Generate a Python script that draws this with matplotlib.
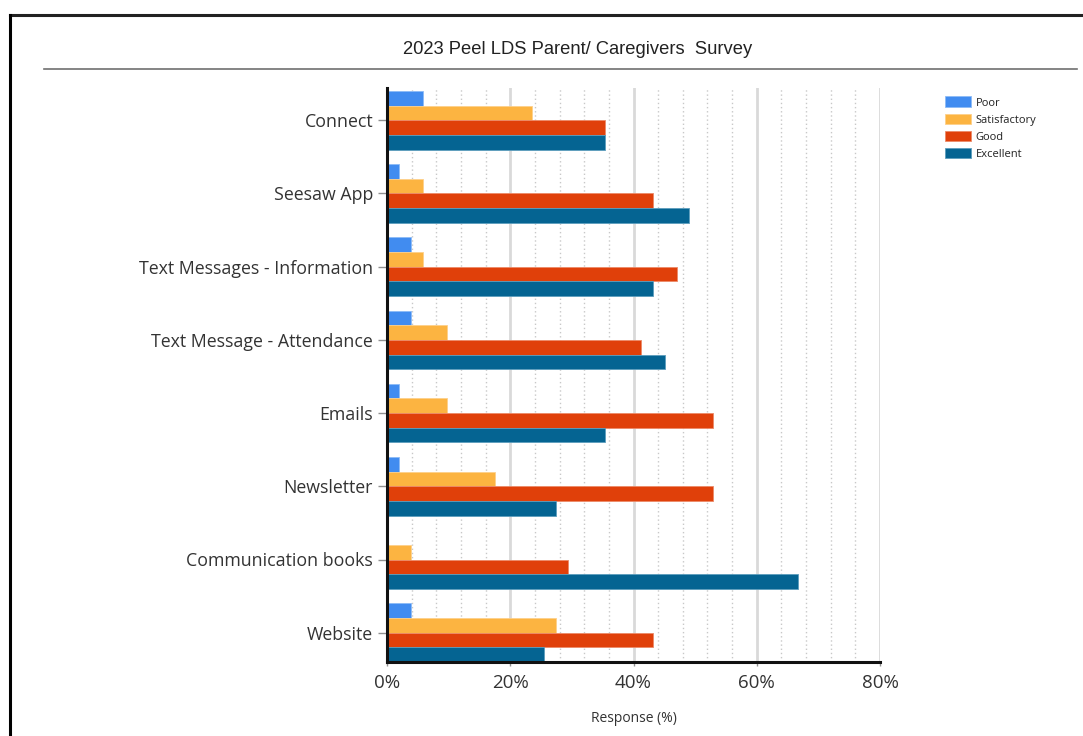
import matplotlib
matplotlib.use("Agg")
import matplotlib.pyplot as plt
from matplotlib.lines import Line2D
from matplotlib.ticker import MultipleLocator, FuncFormatter
import numpy as np

# Survey categories, top to bottom
categories = [
    "Connect",
    "Seesaw App",
    "Text Messages - Information",
    "Text Message - Attendance",
    "Emails",
    "Newsletter",
    "Communication books",
    "Website",
]

# Share of responses (%) per rating
poor = [5.9, 2.0, 3.9, 3.9, 2.0, 2.0, 0.0, 3.9]
satisfactory = [23.5, 5.9, 5.9, 9.8, 9.8, 17.6, 3.9, 27.5]
good = [35.3, 43.1, 47.1, 41.2, 52.9, 52.9, 29.4, 43.1]
excellent = [35.3, 49.0, 43.1, 45.1, 35.3, 27.5, 66.7, 25.5]

series_names = ["Poor", "Satisfactory", "Good", "Excellent"]
series_values = [poor, satisfactory, good, excellent]
series_colors = ["#418CF0", "#FCB441", "#E0400A", "#056492"]
edge_colors = ["#8DBBF6", "#FDD08A", "#EC8A68", "#5C9DBD"]

x_ticks = [0, 20, 40, 60, 80]

W, H = 1083, 736
fig = plt.figure(figsize=(W / 100, H / 100), dpi=100)

label_font = "Open Sans"
text_color = "#333333"

ax = fig.add_axes([387 / W, 1 - 662 / H, (880 - 387) / W, (662 - 88) / H])

n_series = len(series_values)
bar_h = 0.2
y = np.arange(len(categories))
for i, (name, vals, col, ec) in enumerate(zip(series_names, series_values, series_colors, edge_colors)):
    offset = (i - (n_series - 1) / 2) * bar_h
    ax.barh(y + offset, vals, height=bar_h, color=col, edgecolor=ec,
            linewidth=0.6, label=name, zorder=3)

ax.set_xlim(0, 80)
ax.set_ylim(7.4, -0.44)

ax.set_xticks(x_ticks)
ax.xaxis.set_minor_locator(MultipleLocator(4))
ax.xaxis.set_major_formatter(FuncFormatter(lambda v, p: f"{v:.0f}%"))
ax.grid(which="major", axis="x", color="#d9d9d9", linewidth=2.0, zorder=0)
ax.grid(which="minor", axis="x", color="#c8c8c8", linewidth=1.0,
        linestyle=(0, (1, 2)), zorder=0)
ax.set_axisbelow(True)

ax.set_yticks(y)
ax.set_yticklabels(categories, fontsize=12.8, family=label_font, color=text_color)
ax.tick_params(axis="y", length=6.5, width=1, color="#909090", pad=3.5)
ax.tick_params(axis="x", which="major", length=3, width=1, color="#909090",
               labelsize=13.5, labelcolor=text_color, pad=6)
ax.tick_params(axis="x", which="minor", length=0)
for lbl in ax.get_xticklabels():
    lbl.set_family(label_font)

for side in ("top", "right"):
    ax.spines[side].set_visible(False)
for side in ("left", "bottom"):
    ax.spines[side].set_linewidth(2.2)
    ax.spines[side].set_color("#111111")
    ax.spines[side].set_zorder(5)

ax.set_xlabel("Response (%)", fontsize=10, family=label_font, color=text_color, labelpad=13)

# Legend in the upper right
leg = fig.legend(loc="upper left", bbox_to_anchor=(941 / W, 1 - 92 / H),
                 frameon=False, prop={"family": label_font, "size": 8},
                 handlelength=2.3, handleheight=1.1, labelspacing=0.45,
                 handletextpad=0.4, borderaxespad=0)
for t in leg.get_texts():
    t.set_color("#222222")

# Title and page frame
fig.text(578 / W, 1 - 49.5 / H, "2023 Peel LDS Parent/ Caregivers  Survey",
         ha="center", va="center", fontsize=13.2, family="Liberation Sans",
         color="#222222")
fig.add_artist(Line2D([44 / W, 1077 / W], [1 - 69 / H, 1 - 69 / H],
                      transform=fig.transFigure, color="#707070", linewidth=1.2))
fig.add_artist(Line2D([9.5 / W, 1.0], [1 - 14.5 / H, 1 - 14.5 / H],
                      transform=fig.transFigure, color="#222222", linewidth=2.2))
fig.add_artist(Line2D([9.5 / W, 9.5 / W], [0, 1 - 14.5 / H],
                      transform=fig.transFigure, color="#000000", linewidth=2.2))

fig.savefig("out.png", dpi=100)
